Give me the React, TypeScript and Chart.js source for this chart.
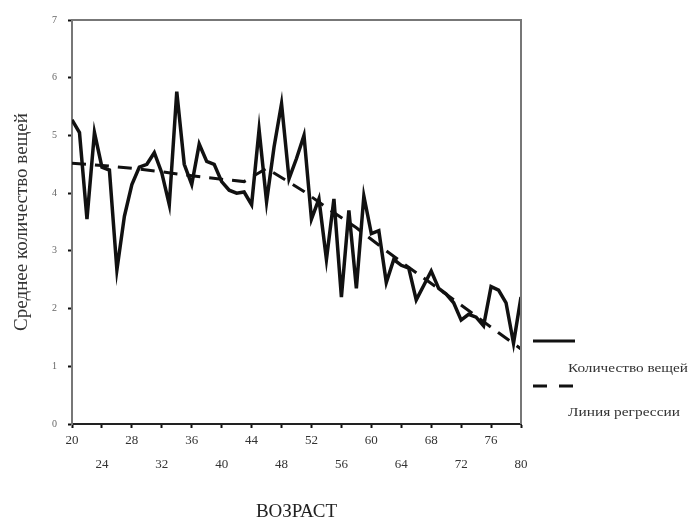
import React, { useEffect, useRef } from "react";
import { Chart, registerables } from "chart.js";

Chart.register(...registerables);

const ages = [
  20, 21, 22, 23, 24, 25, 26, 27, 28, 29,
  30, 31, 32, 33, 34, 35, 36, 37, 38, 39,
  40, 41, 42, 43, 44, 45, 46, 47, 48, 49,
  50, 51, 52, 53, 54, 55, 56, 57, 58, 59,
  60, 61, 62, 63, 64, 65, 66, 67, 68, 69,
  70, 71, 72, 73, 74, 75, 76, 77, 78, 79, 80,
];

const itemCounts = [
  5.27, 5.05, 3.55, 5.05, 4.45, 4.4, 2.67, 3.6, 4.15, 4.45,
  4.5, 4.7, 4.35, 3.8, 5.76, 4.5, 4.15, 4.85, 4.55, 4.5,
  4.2, 4.05, 4.0, 4.02, 3.8, 5.1, 3.85, 4.8, 5.55, 4.25,
  4.6, 5.0, 3.55, 3.9, 2.85, 3.9, 2.2, 3.7, 2.35, 3.95,
  3.3, 3.35, 2.45, 2.85, 2.75, 2.7, 2.15, 2.4, 2.65, 2.35,
  2.25, 2.1, 1.8, 1.9, 1.85, 1.7, 2.38, 2.32, 2.1, 1.4, 2.2,
];

const regressionAges = [20, 24, 28, 32, 36, 40, 43, 46, 51, 54, 58, 62, 66, 70, 74, 77, 80];
const regressionValues = [4.52, 4.48, 4.43, 4.37, 4.3, 4.24, 4.2, 4.43, 4.03, 3.75, 3.4, 3.0, 2.62, 2.25, 1.87, 1.58, 1.3];

const seriesLabels = ["Количество вещей", "Линия регрессии"];
const yTitle = "Среднее количество вещей";
const xTitle = "ВОЗРАСТ";

const framePlugin = {
  id: "frame",
  afterDraw(chart: any) {
    const { ctx, chartArea } = chart;
    const { left, right, top, bottom } = chartArea;
    ctx.save();
    ctx.strokeStyle = "#777";
    ctx.lineWidth = 2;
    ctx.beginPath();
    ctx.moveTo(left, top);
    ctx.lineTo(right, top);
    ctx.lineTo(right, bottom);
    ctx.stroke();

    // legend
    ctx.strokeStyle = "#111";
    ctx.lineWidth = 3;
    ctx.setLineDash([]);
    ctx.beginPath();
    ctx.moveTo(533, 341);
    ctx.lineTo(575, 341);
    ctx.stroke();
    ctx.setLineDash([14, 12]);
    ctx.beginPath();
    ctx.moveTo(533, 386);
    ctx.lineTo(575, 386);
    ctx.stroke();
    ctx.setLineDash([]);
    ctx.fillStyle = "#333";
    ctx.font = "12px 'Liberation Serif', serif";
    ctx.textAlign = "left";
    ctx.textBaseline = "middle";
    const w1 = ctx.measureText(seriesLabels[0]).width;
    ctx.save();
    ctx.translate(568, 369);
    ctx.scale(120 / w1, 1);
    ctx.fillText(seriesLabels[0], 0, 0);
    ctx.restore();
    const w2 = ctx.measureText(seriesLabels[1]).width;
    ctx.save();
    ctx.translate(568, 413);
    ctx.scale(112 / w2, 1);
    ctx.fillText(seriesLabels[1], 0, 0);
    ctx.restore();
    ctx.restore();
  },
};

export default function App() {
  const ref = useRef<HTMLCanvasElement | null>(null);

  useEffect(() => {
    if (!ref.current) return;
    const chart = new Chart(ref.current, {
      type: "line",
      data: {
        datasets: [
          {
            label: seriesLabels[0],
            data: ages.map((a, i) => ({ x: a, y: itemCounts[i] })),
            borderColor: "#111",
            borderWidth: 3.5,
            pointRadius: 0,
            tension: 0,
            fill: false,
          },
          {
            label: seriesLabels[1],
            data: regressionAges.map((a, i) => ({ x: a, y: regressionValues[i] })),
            borderColor: "#111",
            borderWidth: 3,
            borderDash: [14, 9],
            pointRadius: 0,
            tension: 0,
            fill: false,
          },
        ],
      },
      options: {
        animation: false,
        responsive: true,
        maintainAspectRatio: false,
        layout: { padding: { top: 20, right: 171, left: 0, bottom: 0 } },
        plugins: {
          legend: { display: false },
          tooltip: { enabled: false },
        },
        scales: {
          x: {
            type: "linear",
            min: 20,
            max: 80,
            afterFit: (s: any) => {
              s.height = 98;
            },
            ticks: {
              stepSize: 4,
              padding: 0,
              color: "#333",
              font: { family: "'Liberation Serif', serif", size: 13, lineHeight: 1.9 },
              maxRotation: 0,
              autoSkip: false,
              callback: (v: any, i: number) => (i % 2 === 0 ? [String(v), ""] : ["", String(v)]),
            },
            grid: { drawOnChartArea: false, drawTicks: true, tickLength: 4, tickColor: "#111", tickWidth: 2 },
            border: { display: true, color: "#222", width: 2 },
            title: {
              display: true,
              text: xTitle,
              color: "#222",
              font: { family: "'Liberation Serif', serif", size: 19, lineHeight: 1.1 },
              padding: { top: 0, bottom: 0 },
            },
          },
          y: {
            min: 0,
            max: 7,
            afterFit: (s: any) => {
              s.width = 72;
            },
            ticks: {
              stepSize: 1,
              padding: 11,
              color: "#666",
              font: { family: "'Liberation Serif', serif", size: 10 },
            },
            grid: { drawOnChartArea: false, drawTicks: true, tickLength: 4, tickColor: "#111", tickWidth: 2 },
            border: { display: true, color: "#777", width: 2 },
            title: {
              display: true,
              text: yTitle,
              color: "#333",
              font: { family: "'Liberation Serif', serif", size: 19, lineHeight: 1.1 },
              padding: { top: 12, bottom: 0 },
            },
          },
        },
      },
      plugins: [framePlugin],
    });
    return () => chart.destroy();
  }, []);

  return (
    <div style={{ position: "absolute", left: 0, top: 0, width: 692, height: 522, background: "#fff" }}>
      <canvas ref={ref} />
    </div>
  );
}
